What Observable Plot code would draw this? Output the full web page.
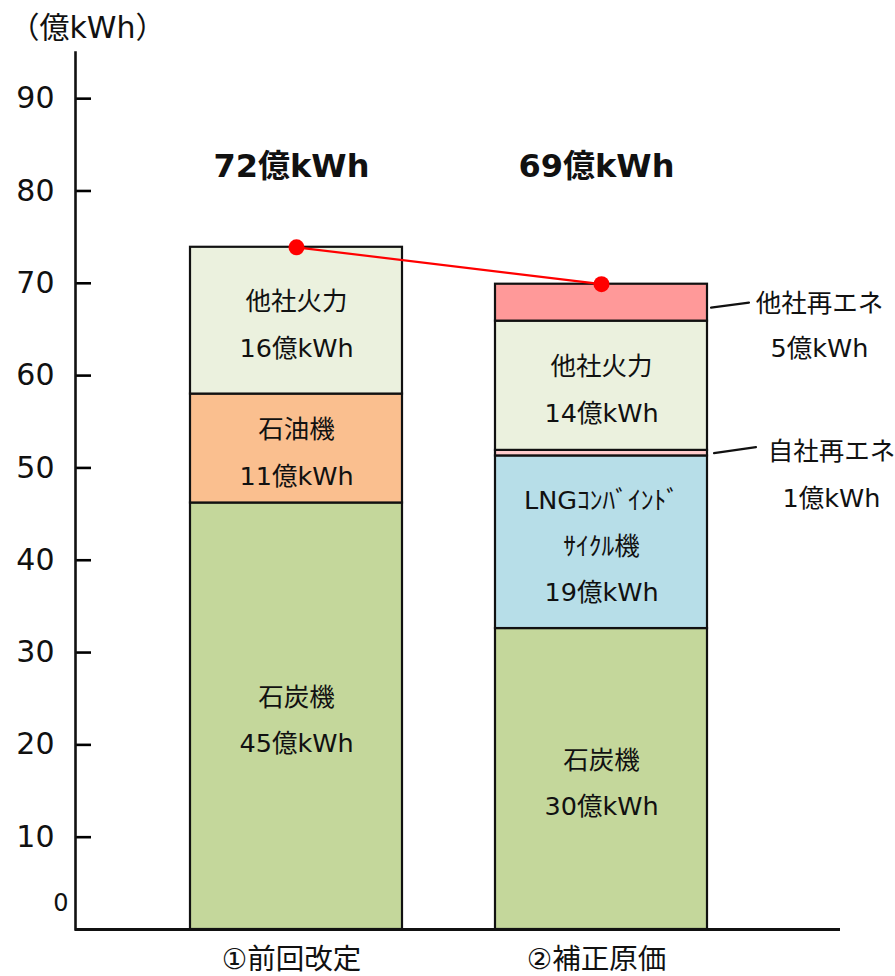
<!DOCTYPE html>
<html>
<head>
<meta charset="utf-8">
<script src="https://cdn.jsdelivr.net/npm/d3@7"></script>
<script src="https://cdn.jsdelivr.net/npm/@observablehq/plot@0.6"></script>
<style>
  html, body { margin: 0; padding: 0; background: #fff; }
  #chart svg { display: block; }
</style>
</head>
<body>
<div id="chart"></div>
<script>
const categories = ["①前回改定", "②補正原価"];
const sources = ["石炭機", "石油機", "LNGコンバインドサイクル機", "自社再エネ", "他社火力", "他社再エネ"];
const colors = ["#c4d79b", "#fabf8f", "#b7dee8", "#ffcccc", "#ebf1de", "#ff9999"];
const valuesPrev = [46.2, 11.8, 0, 0, 15.9, 0];
const valuesCorr = [32.6, 0, 18.7, 0.6, 14.0, 4.0];
const labelsPrev = ["石炭機\n45億kWh", "石油機\n11億kWh", "", "", "他社火力\n16億kWh", ""];
const labelsCorr = ["石炭機\n30億kWh", "", "LNGｺﾝﾊﾞｲﾝﾄﾞ\nｻｲｸﾙ機\n19億kWh", "", "他社火力\n14億kWh", ""];
const sideLabelsCorr = ["", "", "", "自社再エネ\n1億kWh", "", "他社再エネ\n5億kWh"];
const totalLabels = ["72億kWh", "69億kWh"];
const yTicks = [10, 20, 30, 40, 50, 60, 70, 80, 90];
const zeroLabel = [0];
const yTitle = "（億kWh）";

// long table (bottom-to-top order per category)
const rows = [];
[valuesPrev, valuesCorr].forEach((vals, ci) => {
  const labs = ci === 0 ? labelsPrev : labelsCorr;
  let acc = 0;
  vals.forEach((v, si) => {
    rows.push({
      category: categories[ci], source: sources[si], value: v,
      y1: acc, y2: acc + v, mid: acc + v / 2,
      label: labs[si], side: ci === 1 ? sideLabelsCorr[si] : ""
    });
    acc += v;
  });
});
const totals = categories.map((c, i) => ({
  category: c,
  total: d3.sum(rows.filter(r => r.category === c), r => r.value),
  label: totalLabels[i]
}));

const FONT = "'DejaVu Sans', 'Noto Sans CJK JP', sans-serif";
const lineShape = {draw(context, l) { context.moveTo(0, 0); context.lineTo(0, -l); }};

const chart = Plot.plot({
  width: 895,
  height: 976,
  marginLeft: 75,
  marginRight: 55,
  marginTop: 52,
  marginBottom: 47,
  style: {fontFamily: FONT, color: "#000", background: "#fff", overflow: "visible"},
  x: {domain: categories, range: [190, 708], paddingInner: 0.304, paddingOuter: 0, label: null},
  y: {domain: [0, 95], label: null},
  color: {domain: sources, range: colors},
  marks: [
    Plot.rectY(rows.filter(r => r.value > 0), {
      x: "category", y1: "y1", y2: "y2", fill: "source",
      stroke: "#111", strokeWidth: 2.2
    }),
    Plot.text(rows.filter(r => r.label), {
      x: "category", y: "mid", text: "label",
      fontSize: 25.5, lineHeight: 1.82, dy: -2, fill: "#111"
    }),
    Plot.text(rows.filter(r => r.source === "他社再エネ" && r.side), {
      x: "category", y: "mid", text: "side",
      fontSize: 25.5, lineHeight: 1.78, dx: 218, dy: 17, fill: "#111"
    }),
    Plot.text(rows.filter(r => r.source === "自社再エネ" && r.side), {
      x: "category", y: "mid", text: "side",
      fontSize: 25.5, lineHeight: 1.84, dx: 230, dy: 15, fill: "#111"
    }),
    Plot.vector(rows.filter(r => r.source === "他社再エネ" && r.side), {
      x: "category", y: "mid", dx: 109.5, dy: 5,
      length: 38.3, rotate: 82.5, anchor: "start", shape: lineShape,
      stroke: "#111", strokeWidth: 2.2
    }),
    Plot.vector(rows.filter(r => r.source === "自社再エネ" && r.side), {
      x: "category", y: "mid", dx: 112.5, dy: 0,
      length: 42.4, rotate: 81.9, anchor: "start", shape: lineShape,
      stroke: "#111", strokeWidth: 2.2
    }),
    Plot.line(totals, {x: "category", y: "total", stroke: "#ff0000", strokeWidth: 2.2}),
    Plot.dot(totals, {x: "category", y: "total", r: 8, fill: "#ff0000", stroke: "none"}),
    Plot.text(totals, {
      x: "category", text: "label", frameAnchor: "top", lineAnchor: "middle", dy: 114, dx: -5,
      fontSize: 32, fontWeight: "bold", fill: "#111"
    }),
    Plot.axisY({
      ticks: yTicks, tickSize: -16, tickPadding: 37, tickFormat: d => String(d),
      fontSize: 30, strokeWidth: 2.6, label: null, fill: "#111"
    }),
    Plot.text(zeroLabel, {
      y: d => d, text: d => String(d), frameAnchor: "left",
      textAnchor: "end", dx: -7, dy: -26, fontSize: 24, fill: "#111"
    }),
    Plot.text([yTitle], {
      text: d => d, frameAnchor: "top-left", textAnchor: "start", lineAnchor: "middle",
      dx: -66, dy: -24, fontSize: 30, fill: "#111"
    }),
    Plot.axisX({tickSize: 0, tickPadding: 19, dx: -5, fontSize: 28.5, label: null, fill: "#111"}),
    Plot.frame({anchor: "left", strokeWidth: 2.6, stroke: "#111"}),
    Plot.ruleY([0], {strokeWidth: 3, stroke: "#111"})
  ]
});
document.getElementById("chart").appendChild(chart);
</script>
</body>
</html>
